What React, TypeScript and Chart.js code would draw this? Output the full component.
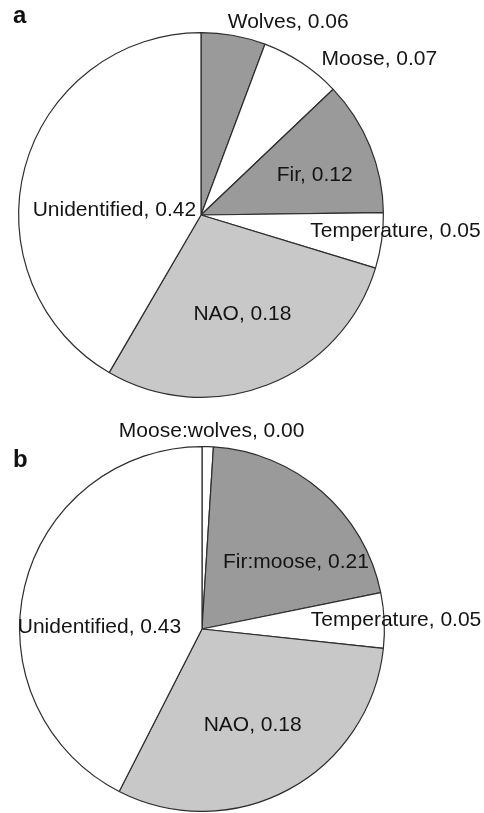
import React, { useEffect, useRef } from "react";
import { Chart, registerables } from "chart.js";

Chart.register(...registerables);

// ---- Panel a data ----
const categoriesA = ["Wolves", "Moose", "Fir", "Temperature", "NAO", "Unidentified"];
const valuesA = [0.057, 0.072, 0.119, 0.049, 0.287, 0.416];
const labelValuesA = ["0.06", "0.07", "0.12", "0.05", "0.18", "0.42"];

// ---- Panel b data ----
const categoriesB = ["Moose:wolves", "Fir:moose", "Temperature", "NAO", "Unidentified"];
const valuesB = [0.01, 0.208, 0.049, 0.308, 0.425];
const labelValuesB = ["0.00", "0.21", "0.05", "0.18", "0.43"];

// ---- Styling ----
const DARK = "#9a9a9a";
const LIGHT = "#c8c8c8";
const WHITE = "#ffffff";
const colorsA = [DARK, WHITE, DARK, WHITE, LIGHT, WHITE];
const colorsB = [WHITE, DARK, WHITE, LIGHT, WHITE];

// label placement, in units of the pie radius relative to the pie centre
const placesA: [number, number][] = [
  [0.478, -1.068],
  [0.978, -0.866],
  [0.623, -0.23],
  [1.066, 0.077],
  [0.227, 0.536],
  [-0.475, -0.038],
];
const placesB: [number, number][] = [
  [0.053, -1.094],
  [0.515, -0.373],
  [1.064, -0.06],
  [0.278, 0.518],
  [-0.562, -0.021],
];

const labelPlugin = {
  id: "sliceLabels",
  afterDatasetsDraw(chart: any, _args: any, opts: any) {
    const { ctx } = chart;
    const meta = chart.getDatasetMeta(0);
    ctx.save();
    ctx.font = "21px 'Liberation Sans', Arial, sans-serif";
    ctx.fillStyle = "#141414";
    ctx.textAlign = "center";
    ctx.textBaseline = "alphabetic";
    const capHalf = 0.716 * 21 / 2;
    meta.data.forEach((arc: any, i: number) => {
      const { x, y, outerRadius } = arc.getProps(["x", "y", "outerRadius"], true);
      const [fx, fy] = opts.places[i];
      const text = `${chart.data.labels[i]}, ${opts.texts[i]}`;
      ctx.fillText(text, x + fx * outerRadius, y + fy * outerRadius + capHalf);
    });
    ctx.font = "bold 24px 'Liberation Sans', Arial, sans-serif";
    ctx.textAlign = "left";
    ctx.fillStyle = "#111";
    ctx.fillText(opts.letter, opts.letterX, opts.letterY);
    ctx.restore();
  },
};

function PiePanel(props: {
  width: number;
  height: number;
  top: number;
  labels: string[];
  values: number[];
  colors: string[];
  texts: string[];
  places: [number, number][];
  padding: { left: number; top: number; right: number; bottom: number };
  letter: string;
  letterX: number;
  letterY: number;
}) {
  const ref = useRef<HTMLCanvasElement>(null);
  useEffect(() => {
    if (!ref.current) return;
    const chart = new Chart(ref.current, {
      type: "pie",
      data: {
        labels: props.labels,
        datasets: [
          {
            data: props.values,
            backgroundColor: props.colors,
            borderColor: "#2e2e2e",
            borderWidth: 1.2,
          },
        ],
      },
      options: {
        responsive: false,
        animation: false,
        devicePixelRatio: 1,
        layout: { padding: props.padding },
        plugins: {
          legend: { display: false },
          tooltip: { enabled: false },
          sliceLabels: {
            texts: props.texts,
            places: props.places,
            letter: props.letter,
            letterX: props.letterX,
            letterY: props.letterY,
          },
        } as any,
      },
      plugins: [labelPlugin],
    });
    return () => chart.destroy();
  }, []);
  return (
    <canvas
      ref={ref}
      width={props.width}
      height={props.height}
      style={{ position: "absolute", left: 0, top: props.top, width: props.width, height: props.height }}
    />
  );
}

export default function App() {
  return (
    <div style={{ position: "absolute", left: 0, top: 0, width: 484, height: 813, background: "#fff", overflow: "hidden" }}>
      <PiePanel
        width={484}
        height={400}
        top={0}
        labels={categoriesA}
        values={valuesA}
        colors={colorsA}
        texts={labelValuesA}
        places={placesA}
        padding={{ left: 18, top: 32, right: 100, bottom: 2 }}
        letter="a"
        letterX={13}
        letterY={23}
      />
      <PiePanel
        width={484}
        height={413}
        top={400}
        labels={categoriesB}
        values={valuesB}
        colors={colorsB}
        texts={labelValuesB}
        places={placesB}
        padding={{ left: 19, top: 46, right: 99, bottom: 1 }}
        letter="b"
        letterX={13}
        letterY={67}
      />
    </div>
  );
}
